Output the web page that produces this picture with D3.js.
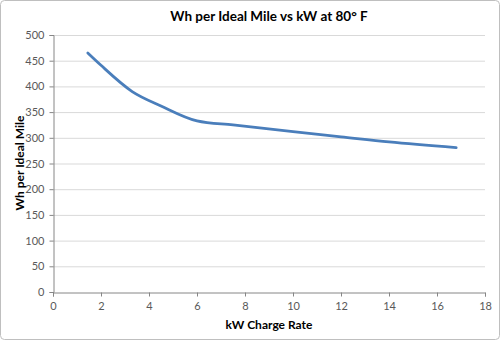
<!DOCTYPE html>
<html><head><meta charset="utf-8">
<script src="https://cdn.jsdelivr.net/npm/d3@7"></script>
<style>body{margin:0;background:#fff}svg{display:block}</style>
</head><body>
<svg id="c" width="500" height="340"></svg>
<script>
const kw = [1.45, 2.0, 3.3, 4.5, 6.0, 7.5, 10, 12, 14, 16.8];
const whPerMile = [465, 441, 390, 362, 333, 325, 312, 302, 292, 281];
const xTicks = [0,2,4,6,8,10,12,14,16,18];
const yTicks = [0,50,100,150,200,250,300,350,400,450,500];
const title = "Wh per Ideal Mile vs kW at 80° F";
const xTitle = "kW Charge Rate";
const yTitle = "Wh per Ideal Mile";

const svg = d3.select("#c");
const font = "Lato, 'Open Sans', sans-serif";
svg.append("rect").attr("x",0.5).attr("y",0.5).attr("width",499).attr("height",339)
  .attr("rx",4).attr("fill","#fff").attr("stroke","#BFBFBF");

const x = d3.scaleLinear().domain([0,18]).range([53,485]);
const y = d3.scaleLinear().domain([0,500]).range([292,35]);

// gridlines
svg.append("g").selectAll("line").data(yTicks.slice(1)).join("line")
  .attr("x1",x(0)).attr("x2",x(18)).attr("y1",d=>y(d)+0.5).attr("y2",d=>y(d)+0.5)
  .attr("stroke","#D9D9D9").attr("stroke-width",1);

const xa = svg.append("g").attr("transform",`translate(0,${y(0)+0.5})`)
  .call(d3.axisBottom(x).tickValues(xTicks).tickSize(4).tickPadding(6).tickFormat(d3.format("d")));
const ya = svg.append("g").attr("transform",`translate(${x(0)+0.5},0)`)
  .call(d3.axisLeft(y).tickValues(yTicks).tickSize(4).tickPadding(5).tickFormat(d3.format("d")));
[xa,ya].forEach(a=>{
  a.select(".domain").attr("stroke","#868686");
  a.selectAll(".tick line").attr("stroke","#868686");
  a.selectAll("text").attr("fill","#595959").style("font-family",font).style("font-size","11px");
});

const line = d3.line().x((d,i)=>x(kw[i])).y(d=>y(d)).curve(d3.curveMonotoneX);
svg.append("path").attr("d",line(whPerMile)).attr("fill","none")
  .attr("stroke","#4A7EBB").attr("stroke-width",2.75).attr("stroke-linecap","round");

svg.append("text").attr("x",269).attr("y",21).attr("text-anchor","middle")
  .style("font-family",font).style("font-size","13.5px").style("font-weight","bold").attr("fill","#000").text(title);
svg.append("text").attr("x",269).attr("y",329).attr("text-anchor","middle")
  .style("font-family",font).style("font-size","12px").style("font-weight","bold").attr("fill","#000").text(xTitle);
svg.append("text").attr("transform","translate(24,163) rotate(-90)").attr("text-anchor","middle")
  .style("font-family",font).style("font-size","12px").style("font-weight","bold").attr("fill","#000").text(yTitle);
</script>
</body></html>
